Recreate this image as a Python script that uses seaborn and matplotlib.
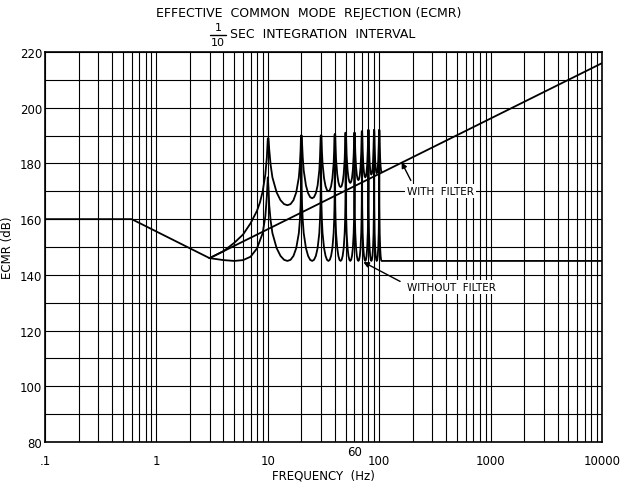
import matplotlib
matplotlib.use('Agg')
import matplotlib.pyplot as plt
from matplotlib.ticker import NullFormatter
import pandas as pd
import seaborn as sns

sns.set_style('white')
plt.rcParams['font.family'] = ['DejaVu Sans']
plt.rcParams['text.color'] = 'black'
plt.rcParams['axes.labelcolor'] = 'black'
plt.rcParams['xtick.color'] = 'black'
plt.rcParams['ytick.color'] = 'black'

# straight parts of the curves (Hz, dB)
base_freq = [0.1, 0.6, 3.0]
base_db = [160, 160, 146]
filter_freq = [3.0, 10000]
filter_db = [146, 216]

# resonance lobes at the harmonics of 10 Hz (1/10 sec integration)
harmonics = [10, 20, 30, 40, 50, 60, 70, 80, 90, 100]
peak_without = [175, 190, 190, 190.5, 191, 191, 191.5, 192, 192, 192]
peak_with = [189, 190, 190, 190.5, 191, 191, 191.5, 192, 192, 192]
# valley level after each harmonic (15, 25, ... 105 Hz)
valley_without = [145, 145, 145, 145, 145, 145, 145, 145, 145, 145]
valley_with = [165, 167.5, 170, 171.5, 173, 174, 175, 176, 176.5, 177]

# shape of one lobe: offset from harmonic (Hz) -> dB above valley
lobe_offset = [0.15, 0.3, 0.6, 1, 2, 3, 4, 5]
lobe_rise = [26, 20, 14.5, 10, 4.6, 1.8, 0.4, 0]

# start of each family below the first harmonic
low_freq_without = [3, 4, 5, 6, 7, 8, 9, 9.5, 9.8]
low_db_without = [146, 145.3, 145, 145.3, 146.5, 149.5, 155, 161, 168]
low_freq_with = [3, 4, 5, 6, 7, 8, 8.5, 9, 9.5, 9.8]
low_db_with = [146, 148.5, 151.5, 154.5, 158.5, 163, 166, 170, 176, 182]


def build_family(low_f, low_d, peaks, valleys):
    f = list(low_f)
    d = list(low_d)
    for i, h in enumerate(harmonics):
        if i > 0:
            for off, rise in zip(lobe_offset[-2::-1], lobe_rise[-2::-1]):
                f.append(h - off)
                d.append(min(valleys[i - 1] + rise, peaks[i]))
        f.append(h)
        d.append(peaks[i])
        for off, rise in zip(lobe_offset, lobe_rise):
            f.append(h + off)
            d.append(min(valleys[i] + rise, peaks[i]))
    return pd.DataFrame({'freq': f, 'db': d})


without = build_family(low_freq_without, low_db_without, peak_without, valley_without)
without = pd.concat([without, pd.DataFrame({'freq': [10000], 'db': [valley_without[-1]]})])
withf = build_family(low_freq_with, low_db_with, peak_with, valley_with)

fig = plt.figure(figsize=(6.21, 4.85), dpi=100)
ax = fig.add_axes([45 / 621, 1 - 443 / 485, 557 / 621, 390 / 485])

line_kw = dict(color='black', lw=1.3, estimator=None, sort=False, ax=ax)
sns.lineplot(x=base_freq, y=base_db, **line_kw)
sns.lineplot(x=filter_freq, y=filter_db, **line_kw)
sns.lineplot(data=without, x='freq', y='db', **line_kw)
sns.lineplot(data=withf, x='freq', y='db', **line_kw)

ax.set_xscale('log')
ax.set_xlim(0.1, 10000)
ax.set_ylim(80, 220)
ax.set_xticks([0.1, 1, 10, 100, 1000, 10000])
ax.set_xticklabels(['.1', '1', '10', '100', '1000', '10000'])
ax.xaxis.set_minor_formatter(NullFormatter())
ax.set_yticks([80, 100, 120, 140, 160, 180, 200, 220])
ax.set_yticks([90, 110, 130, 150, 170, 190, 210], minor=True)
ax.grid(True, which='both', color='black', lw=0.8)
ax.tick_params(which='both', length=0, labelsize=8.5)
ax.tick_params(axis='x', pad=9)
ax.tick_params(axis='y', pad=2)
for s in ax.spines.values():
    s.set_color('black')
    s.set_linewidth(1.2)

ax.text(60, -0.025, '60', transform=ax.get_xaxis_transform(), ha='center', va='center', fontsize=8.5)
ax.set_xlabel('FREQUENCY  (Hz)', fontsize=8.5, labelpad=1)
ax.set_ylabel('ECMR (dB)', fontsize=8.5, labelpad=4)

ax.annotate('WITH  FILTER', xy=(159, 180.4), xytext=(178, 170), ha='left', va='center', fontsize=7.5,
            bbox=dict(fc='white', ec='none', pad=1.5),
            arrowprops=dict(arrowstyle='-|>', color='black', lw=1, relpos=(0.1, 1), shrinkA=3, shrinkB=0,
                            mutation_scale=8))
ax.annotate('WITHOUT  FILTER', xy=(72, 144.6), xytext=(178, 135.6), ha='left', va='center', fontsize=7.5,
            bbox=dict(fc='white', ec='none', pad=1.5),
            arrowprops=dict(arrowstyle='-|>', color='black', lw=1, relpos=(0, 0.7), shrinkA=4, shrinkB=0,
                            mutation_scale=8))

fig.text(309 / 621, 1 - 14 / 485, 'EFFECTIVE  COMMON  MODE  REJECTION (ECMR)', ha='center', va='center',
         fontsize=9, fontweight='medium')
fig.text(230 / 621, 1 - 35 / 485, 'SEC  INTEGRATION  INTERVAL', ha='left', va='center', fontsize=9,
         fontweight='medium')
fig.text(218 / 621, 1 - 28 / 485, '1', ha='center', va='center', fontsize=8)
fig.text(218 / 621, 1 - 43 / 485, '10', ha='center', va='center', fontsize=8)
fig.add_artist(plt.Line2D([210 / 621, 226 / 621], [1 - 35.5 / 485, 1 - 35.5 / 485], color='black', lw=1))

fig.savefig('out.png', dpi=100)
